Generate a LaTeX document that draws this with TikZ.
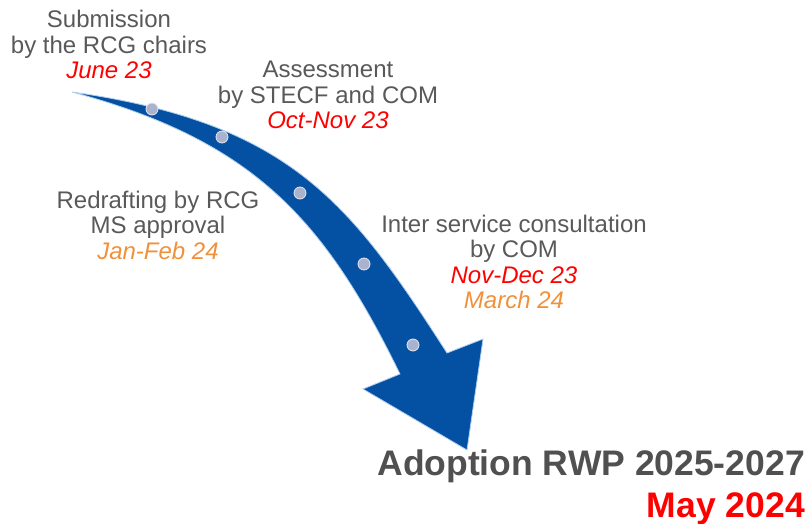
\documentclass[tikz,border=0pt]{standalone}
\usepackage{fontspec}
\setmainfont{Liberation Sans}
\definecolor{txtgray}{RGB}{89,89,89}
\definecolor{darkgray}{RGB}{80,80,80}
\definecolor{datered}{RGB}{255,0,0}
\definecolor{dateorange}{RGB}{240,145,58}
\definecolor{arrowblue}{RGB}{4,80,162}
\definecolor{arrowedge}{RGB}{175,205,238}
\definecolor{dotc}{RGB}{170,178,206}
\begin{document}
\begin{tikzpicture}[x=1pt,y=-1pt,
  lbl/.style={inner sep=0pt,anchor=base,text=txtgray,font=\fontsize{24}{25.5}\selectfont},
  big/.style={inner sep=0pt,anchor=base east,text=darkgray,font=\fontsize{35.5}{42}\selectfont\bfseries},
  stepdot/.style={circle,fill=dotc,draw=white!70!dotc,line width=0.8pt,minimum size=12pt,inner sep=0pt}]
\useasboundingbox (0,0) rectangle (811,524);
% arrow
\coordinate (tail) at (72,92);
\coordinate (ushaft) at (447,353);
\coordinate (rwing) at (483,339);
\coordinate (tip) at (467,450);
\coordinate (lwing) at (363,389);
\coordinate (lshaft) at (400,374);
\path[fill=arrowblue,draw=arrowedge,line width=0.8pt,line join=miter]
  (tail) .. controls (290,123) and (350,202) .. (ushaft) -- (rwing) -- (tip) -- (lwing) -- (lshaft)
  .. controls (325,221) and (255,141) .. (tail) -- cycle;
% dots
\node[stepdot] (d1) at (152,109) {};
\node[stepdot] (d2) at (222,137) {};
\node[stepdot] (d3) at (300,193) {};
\node[stepdot] (d4) at (364,264) {};
\node[stepdot] (d5) at (413,345) {};
% labels
\node[lbl] (sub) at (109,28) {\begin{tabular}[t]{@{}c@{}}Submission\\by the RCG chairs\\\textcolor{datered}{\itshape June 23}\end{tabular}};
\node[lbl] (ass) at (328,78) {\begin{tabular}[t]{@{}c@{}}Assessment\\by STECF and COM\\\textcolor{datered}{\itshape Oct-Nov 23}\end{tabular}};
\node[lbl] (red) at (158,208) {\begin{tabular}[t]{@{}c@{}}Redrafting by RCG\\MS approval\\\textcolor{dateorange}{\itshape Jan-Feb 24}\end{tabular}};
\node[lbl] (isc) at (514,232) {\begin{tabular}[t]{@{}c@{}}Inter service consultation\\by COM\\\textcolor{datered}{\itshape Nov-Dec 23}\\\textcolor{dateorange}{\itshape March 24}\end{tabular}};
\node[big] (adopt) at (805,475) {\begin{tabular}[t]{@{}r@{}}Adoption RWP 2025-2027\\\textcolor{datered}{May 2024}\end{tabular}};
\end{tikzpicture}
\end{document}
